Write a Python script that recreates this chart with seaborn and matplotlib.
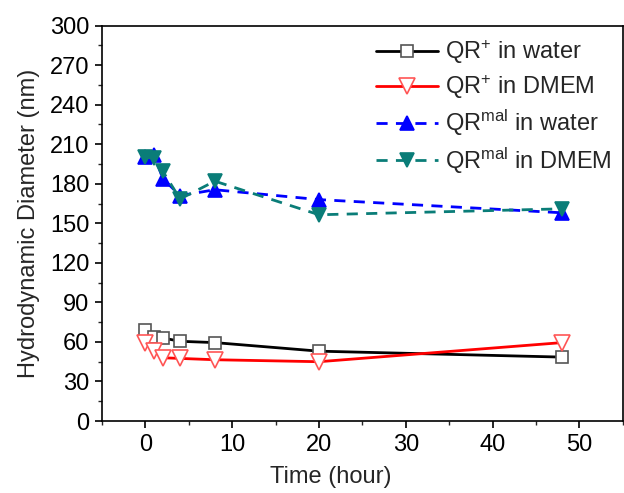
import matplotlib
matplotlib.use("Agg")
import matplotlib.pyplot as plt
import seaborn as sns
import pandas as pd
from matplotlib.ticker import MultipleLocator

# data
time_h = [0, 1, 2, 4, 8, 20, 48]
qr_plus_water = [69, 64, 63, 60.5, 59.5, 53, 48.5]
qr_plus_dmem = [59.5, 53, 48, 47.5, 46.5, 45, 59.5]
qr_mal_water = [200, 202, 184, 171, 175.5, 168, 158]
qr_mal_dmem = [200, 199.5, 189.5, 168.5, 182, 156.5, 161]

labels = [r"QR$^{+}$ in water", r"QR$^{+}$ in DMEM",
          r"QR$^{\mathrm{mal}}$ in water", r"QR$^{\mathrm{mal}}$ in DMEM"]

sns.set_theme(style="ticks")
plt.rcParams['font.family'] = ['Liberation Sans', 'DejaVu Sans']
plt.rcParams['mathtext.fontset'] = 'custom'
plt.rcParams['mathtext.rm'] = 'Liberation Sans'
plt.rcParams['mathtext.it'] = 'Liberation Sans:italic'

df = pd.DataFrame({
    "time": time_h * 4,
    "size": qr_plus_water + qr_plus_dmem + qr_mal_water + qr_mal_dmem,
    "series": [labels[0]] * 7 + [labels[1]] * 7 + [labels[2]] * 7 + [labels[3]] * 7,
})

styles = {
    labels[0]: dict(color="black", marker="s", ls="-", mfc="white", mec="#555555", ms=9),
    labels[1]: dict(color="red", marker="v", ls="-", mfc="white", mec="#ff5555", ms=11),
    labels[2]: dict(color="blue", marker="^", ls=(0, (4, 3)), mfc="blue", mec="blue", ms=10),
    labels[3]: dict(color="#0a7d78", marker="v", ls=(0, (4, 3)), mfc="#0a7d78", mec="#0a7d78", ms=10),
}

fig = plt.figure(figsize=(6.24, 4.93), dpi=100)
ax = fig.add_axes([0.1635, 0.146, 0.8345, 0.802])

for lab in labels:
    st = styles[lab]
    sns.lineplot(data=df[df["series"] == lab], x="time", y="size", ax=ax,
                 color=st["color"], marker=st["marker"], linestyle=st["ls"],
                 markerfacecolor=st["mfc"], markeredgecolor=st["mec"],
                 markersize=st["ms"], markeredgewidth=1.2, linewidth=2.0,
                 label=lab, sort=False)

ax.set_xlim(-5, 55)
ax.set_ylim(0, 300)
ax.xaxis.set_minor_locator(MultipleLocator(5))
ax.yaxis.set_major_locator(MultipleLocator(30))
ax.yaxis.set_minor_locator(MultipleLocator(15))
ax.set_xticks([0, 10, 20, 30, 40, 50])
ax.tick_params(which="major", direction="out", length=5, width=1.2, labelsize=17,
               top=False, right=False, colors="black", pad=4)
ax.tick_params(which="minor", direction="out", length=3, width=1.0, top=False, right=False)
for sp in ax.spines.values():
    sp.set_linewidth(1.2)
    sp.set_color("black")

ax.set_xlabel("Time (hour)", fontsize=17)
ax.xaxis.set_label_coords(0.44, -0.115)
ax.set_ylabel("Hydrodynamic Diameter (nm)", fontsize=17, labelpad=7)

ax.legend(loc="upper right", bbox_to_anchor=(1.01, 1.01), frameon=False, fontsize=17,
          handlelength=2.6, labelspacing=0.3, handletextpad=0.3, borderaxespad=0.3)

fig.savefig("out.png", dpi=100)
